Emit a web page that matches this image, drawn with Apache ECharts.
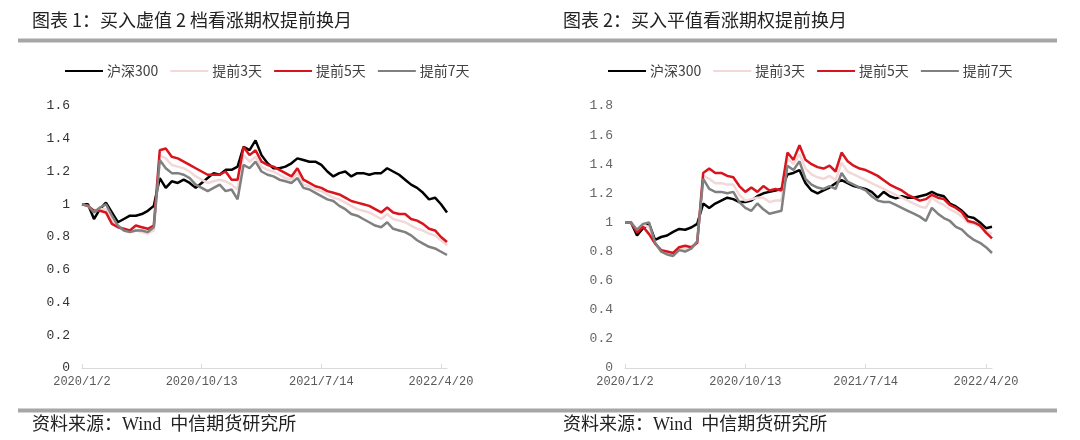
<!DOCTYPE html>
<html>
<head>
<meta charset="utf-8">
<script src="https://cdn.jsdelivr.net/npm/echarts@6/dist/echarts.min.js"></script>
<style>
html,body{margin:0;padding:0;background:#fff;}
#main{width:1080px;height:440px;}
</style>
</head>
<body>
<div id="main"></div>
<script>
// 横轴刻度
var dateTicks = ["2020/1/2", "2020/10/13", "2021/7/14", "2022/4/20"];

// 图表1：买入虚值2档看涨期权
var otm2_hs300 = [1.00,1.00,0.91,0.97,1.01,0.95,0.89,0.91,0.93,0.93,0.94,0.96,0.99,1.16,1.10,1.14,1.13,1.15,1.13,1.10,
    1.13,1.16,1.19,1.18,1.21,1.21,1.23,1.35,1.33,1.39,1.30,1.25,1.22,1.22,1.23,1.25,1.28,1.27,1.26,1.26,
    1.24,1.20,1.17,1.19,1.20,1.17,1.19,1.19,1.18,1.19,1.19,1.22,1.20,1.18,1.15,1.12,1.10,1.07,1.03,1.04,
    1.00,0.95];
var otm2_d3 = [1.00,0.99,0.96,0.97,0.97,0.90,0.86,0.84,0.83,0.84,0.83,0.82,0.84,1.30,1.28,1.24,1.23,1.22,1.20,1.17,
    1.15,1.13,1.14,1.15,1.14,1.12,1.09,1.30,1.26,1.29,1.23,1.21,1.20,1.18,1.16,1.15,1.19,1.12,1.11,1.09,
    1.08,1.06,1.04,1.03,1.01,0.99,0.97,0.96,0.95,0.93,0.91,0.94,0.91,0.90,0.89,0.87,0.85,0.84,0.82,0.81,
    0.78,0.75];
var otm2_d5 = [1.00,0.99,0.96,0.96,0.95,0.88,0.86,0.85,0.84,0.87,0.86,0.85,0.87,1.33,1.34,1.29,1.28,1.26,1.24,1.22,
    1.20,1.18,1.18,1.18,1.20,1.15,1.15,1.35,1.30,1.33,1.26,1.24,1.23,1.21,1.19,1.17,1.22,1.15,1.13,1.11,
    1.10,1.08,1.07,1.06,1.04,1.02,1.01,1.00,0.99,0.97,0.95,0.98,0.95,0.94,0.94,0.91,0.90,0.88,0.85,0.84,
    0.80,0.77];
var otm2_d7 = [1.00,0.99,0.95,0.98,1.00,0.93,0.87,0.84,0.83,0.84,0.84,0.83,0.86,1.27,1.22,1.19,1.19,1.18,1.16,1.12,
    1.10,1.08,1.10,1.12,1.08,1.09,1.03,1.24,1.22,1.26,1.20,1.18,1.17,1.15,1.14,1.13,1.16,1.10,1.09,1.07,
    1.05,1.03,1.02,0.99,0.97,0.94,0.93,0.91,0.89,0.87,0.86,0.89,0.85,0.84,0.83,0.81,0.78,0.76,0.74,0.73,
    0.71,0.69];

// 图表2：买入平值看涨期权
var atm_hs300 = [1.00,1.00,0.91,0.96,0.99,0.88,0.90,0.91,0.935,0.955,0.95,0.965,0.99,1.13,1.10,1.13,1.15,1.17,1.16,1.14,
    1.14,1.15,1.18,1.20,1.21,1.22,1.23,1.33,1.34,1.36,1.27,1.22,1.20,1.22,1.24,1.27,1.29,1.27,1.25,1.24,
    1.23,1.21,1.17,1.21,1.18,1.165,1.18,1.17,1.17,1.18,1.19,1.21,1.19,1.18,1.13,1.11,1.08,1.04,1.03,1.00,
    0.96,0.97];
var atm_d3 = [1.00,1.00,0.94,0.98,0.97,0.86,0.81,0.79,0.78,0.82,0.82,0.82,0.86,1.32,1.30,1.27,1.27,1.26,1.26,1.19,
    1.15,1.16,1.17,1.17,1.14,1.15,1.15,1.44,1.40,1.47,1.37,1.33,1.31,1.30,1.32,1.29,1.41,1.35,1.33,1.31,
    1.29,1.27,1.25,1.23,1.21,1.19,1.17,1.15,1.13,1.11,1.10,1.17,1.14,1.12,1.09,1.07,1.04,1.00,0.99,0.97,
    0.94,0.92];
var atm_d5 = [1.00,1.00,0.93,0.97,0.92,0.855,0.81,0.80,0.79,0.83,0.84,0.83,0.86,1.34,1.37,1.34,1.34,1.32,1.31,1.25,
    1.21,1.24,1.21,1.25,1.22,1.23,1.22,1.48,1.43,1.53,1.43,1.40,1.38,1.37,1.39,1.35,1.48,1.42,1.39,1.37,
    1.36,1.34,1.32,1.29,1.26,1.24,1.22,1.19,1.17,1.15,1.16,1.19,1.17,1.16,1.12,1.10,1.07,1.01,1.00,0.98,
    0.93,0.89];
var atm_d7 = [1.00,1.00,0.95,0.99,1.00,0.86,0.80,0.78,0.77,0.81,0.80,0.82,0.87,1.30,1.23,1.21,1.21,1.20,1.21,1.14,
    1.10,1.08,1.13,1.09,1.06,1.07,1.08,1.39,1.36,1.42,1.30,1.26,1.24,1.23,1.25,1.23,1.34,1.28,1.26,1.24,
    1.22,1.18,1.15,1.14,1.14,1.12,1.10,1.08,1.06,1.04,1.01,1.10,1.06,1.03,1.01,0.97,0.95,0.91,0.88,0.86,
    0.83,0.79];

var names = ["沪深300", "提前3天", "提前5天", "提前7天"];
var lineColor = ["#000000", "#f2d8d8", "#d9141d", "#808080"];
var cjkFont = "'Noto Sans CJK SC', sans-serif";
var monoFont = "'Liberation Mono', monospace";

var xIdx = [];
for (var i = 0; i < otm2_hs300.length; i++) xIdx.push(i);

function xAxisOf(gi) {
    return {
        type: "category", gridIndex: gi, data: xIdx, boundaryGap: false,
        axisLine: {lineStyle: {color: "#d9d9d9", width: 1}},
        axisTick: {interval: 19, length: 4, inside: true, lineStyle: {color: "#d9d9d9"}},
        axisLabel: {
            interval: 19, margin: 8, color: "#595959", fontSize: 12, fontFamily: monoFont,
            formatter: function (v, idx) { return dateTicks[idx / 20] || ""; }
        }
    };
}
function yAxisOf(gi, max, color) {
    return {
        type: "value", gridIndex: gi, min: 0, max: max, interval: 0.2,
        axisLine: {show: false}, axisTick: {show: false}, splitLine: {show: false},
        axisLabel: {margin: 12, color: color, fontSize: 13, fontFamily: monoFont}
    };
}
function seriesOf(gi, arrs) {
    return arrs.map(function (d, k) {
        return {
            name: names[k], type: "line", xAxisIndex: gi, yAxisIndex: gi, data: d,
            showSymbol: false, symbol: "none",
            lineStyle: {color: lineColor[k], width: 2.5}, itemStyle: {color: lineColor[k]}
        };
    });
}
function legendOf(left) {
    return {
        left: left, top: 59, data: names, icon: "rect", itemWidth: 38, itemHeight: 2, itemGap: 12,
        textStyle: {fontSize: 14, color: "#404040", fontFamily: cjkFont, padding: [0, 0, 0, -1]}
    };
}

var myChart = echarts.init(document.getElementById("main"));
myChart.setOption({
    animation: false,
    backgroundColor: "#fff",
    title: [
        {text: "图表 1：买入虚值 2 档看涨期权提前换月", left: 27, top: 6,
            textStyle: {fontSize: 18, fontWeight: "normal", color: "#222", fontFamily: cjkFont}},
        {text: "图表 2：买入平值看涨期权提前换月", left: 558, top: 6,
            textStyle: {fontSize: 18, fontWeight: "normal", color: "#222", fontFamily: cjkFont}}
    ],
    graphic: [
        {type: "rect", shape: {x: 18, y: 38.5, width: 1039, height: 4}, style: {fill: "#a6a6a6"}},
        {type: "rect", shape: {x: 18, y: 408.5, width: 1039, height: 4}, style: {fill: "#a6a6a6"}},
        {type: "text", left: 32, top: 416, style: {text: "资料来源：Wind  中信期货研究所", fill: "#222",
            font: "18px 'Liberation Serif', 'Noto Sans CJK SC'"}},
        {type: "text", left: 563, top: 416, style: {text: "资料来源：Wind  中信期货研究所", fill: "#222",
            font: "18px 'Liberation Serif', 'Noto Sans CJK SC'"}}
    ],
    legend: [legendOf(60), legendOf(603)],
    grid: [
        {left: 82, top: 106, width: 365, height: 262},
        {left: 625, top: 106, width: 367, height: 262}
    ],
    xAxis: [xAxisOf(0), xAxisOf(1)],
    yAxis: [yAxisOf(0, 1.6, "#333"), yAxisOf(1, 1.8, "#666")],
    series: seriesOf(0, [otm2_hs300, otm2_d3, otm2_d5, otm2_d7])
        .concat(seriesOf(1, [atm_hs300, atm_d3, atm_d5, atm_d7]))
});
window.addEventListener("resize", function () {
    myChart.resize();
});
</script>
</body>
</html>
